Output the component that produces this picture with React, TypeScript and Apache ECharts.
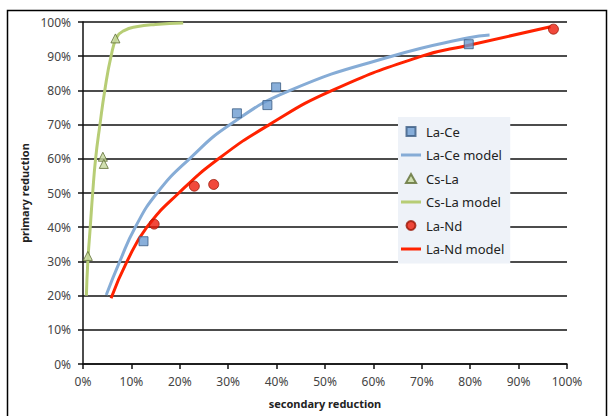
import React, { useEffect, useRef } from "react";
import * as echarts from "echarts";

// secondary reduction (%), primary reduction (%)
const laCeX = [12.5, 31.8, 38.1, 39.9, 79.7];
const laCeY = [35.9, 73.3, 75.7, 80.9, 93.5];

const laCeModelX = [4.8, 7.6, 10.8, 15.3, 22, 30.4, 42.8, 63.8, 79.7, 84];
const laCeModelY = [20.2, 30, 40, 50, 60, 70, 80, 90, 95.4, 96.2];

const csLaX = [1.0, 4.1, 4.3, 6.7];
const csLaY = [31.6, 60.6, 58.5, 95.2];

const csLaModelX = [0.7, 1.0, 1.5, 2.0, 2.6, 3.5, 4.5, 5.8, 7.0, 8.5, 11, 15, 20.7];
const csLaModelY = [20, 30, 40, 50, 60, 70, 80, 90, 95.6, 97.5, 98.6, 99.3, 99.7];

const laNdX = [14.7, 23.0, 27.0, 97.2];
const laNdY = [40.9, 52.0, 52.5, 97.9];

const laNdModelX = [5.8, 9.1, 13.2, 19.8, 28, 38.5, 51.5, 70, 79.7, 96.6];
const laNdModelY = [19.2, 30, 40, 50, 60, 70, 80, 90, 93.2, 98.6];

const xTicks = { min: 0, max: 100, interval: 10 };
const yTicks = { min: 0, max: 100, interval: 10 };

const zip = (xs: number[], ys: number[]) => xs.map((x, i) => [x, ys[i]]);

const lineIcon = "path://M0,0h20v3h-20z";
const rectIcon = "path://M0,0h9v9h-9z";
const triIcon = "path://M4.5,0L9,8H0Z";

export default function App() {
  const ref = useRef<HTMLDivElement>(null);
  useEffect(() => {
    document.body.style.margin = "0";
    const chart = echarts.init(ref.current!, null, { renderer: "svg" });
    const font = "'Noto Sans', sans-serif";
    chart.setOption({
      animation: false,
      backgroundColor: "#fff",
      textStyle: { fontFamily: font },
      grid: { left: 83, right: 42, top: 22, bottom: 52 },
      graphic: [
        {
          type: "rect",
          shape: { x: 7.5, y: 10.5, width: 599, height: 420 },
          style: { fill: "none", stroke: "#000", lineWidth: 1.5 },
          silent: true,
          z: -10,
        },
      ],
      legend: {
        orient: "vertical",
        left: 398,
        top: 117,
        width: 103,
        padding: [8, 6, 8, 3],
        backgroundColor: "#eef2f8",
        itemWidth: 20,
        itemHeight: 9,
        itemGap: 10.5,
        textStyle: { fontSize: 13, color: "#222", fontFamily: font },
        data: [
          { name: "La-Ce", icon: rectIcon },
          { name: "La-Ce model", icon: lineIcon },
          { name: "Cs-La", icon: triIcon },
          { name: "Cs-La model", icon: lineIcon },
          { name: "La-Nd", icon: "circle" },
          { name: "La-Nd model", icon: lineIcon },
        ],
      },
      xAxis: {
        type: "value",
        ...xTicks,
        name: "secondary reduction",
        nameLocation: "middle",
        nameGap: 34,
        nameTextStyle: { fontSize: 11, fontWeight: "bold", color: "#222" },
        axisLine: { show: true, lineStyle: { color: "#111", width: 1.5 } },
        axisTick: { show: true, length: 5, lineStyle: { color: "#111", width: 1.5 } },
        axisLabel: { formatter: "{value}%", fontSize: 12, color: "#444", margin: 11 },
        splitLine: { show: false },
      },
      yAxis: {
        type: "value",
        ...yTicks,
        name: "primary reduction",
        nameLocation: "middle",
        nameGap: 40,
        nameTextStyle: { fontSize: 11, fontWeight: "bold", color: "#222" },
        axisLine: { show: true, lineStyle: { color: "#111", width: 1.5 } },
        axisTick: { show: true, length: 5, lineStyle: { color: "#111", width: 1.5 } },
        axisLabel: { formatter: "{value}%", fontSize: 12, color: "#444", margin: 12 },
        splitLine: { show: true, lineStyle: { color: "#111", width: 1.5 } },
      },
      series: [
        {
          name: "La-Ce",
          type: "scatter",
          symbol: "rect",
          symbolSize: 9,
          z: 5,
          itemStyle: { color: "#6b9bd1", borderColor: "#3b5b82", borderWidth: 1 },
          data: zip(laCeX, laCeY),
        },
        {
          name: "La-Ce model",
          type: "line",
          smooth: 0.5,
          showSymbol: false,
          symbol: "none",
          z: 3,
          lineStyle: { color: "#86acd6", width: 3 },
          itemStyle: { color: "#86acd6" },
          data: zip(laCeModelX, laCeModelY),
        },
        {
          name: "Cs-La",
          type: "scatter",
          symbol: "triangle",
          symbolSize: 9,
          z: 5,
          itemStyle: { color: "#c5d89c", borderColor: "#5f6e33", borderWidth: 1 },
          data: zip(csLaX, csLaY),
        },
        {
          name: "Cs-La model",
          type: "line",
          smooth: 0.5,
          showSymbol: false,
          symbol: "none",
          z: 3,
          lineStyle: { color: "#b7cd75", width: 3 },
          itemStyle: { color: "#b7cd75" },
          data: zip(csLaModelX, csLaModelY),
        },
        {
          name: "La-Nd",
          type: "scatter",
          symbol: "circle",
          symbolSize: 10,
          z: 5,
          itemStyle: { color: "#ee1c0a", borderColor: "#9a1a0a", borderWidth: 1 },
          data: zip(laNdX, laNdY),
        },
        {
          name: "La-Nd model",
          type: "line",
          smooth: 0.5,
          showSymbol: false,
          symbol: "none",
          z: 4,
          lineStyle: { color: "#ff2200", width: 3 },
          itemStyle: { color: "#ff2200" },
          data: zip(laNdModelX, laNdModelY),
        },
      ],
    });
    return () => chart.dispose();
  }, []);
  return <div ref={ref} style={{ width: 609, height: 416 }} />;
}
